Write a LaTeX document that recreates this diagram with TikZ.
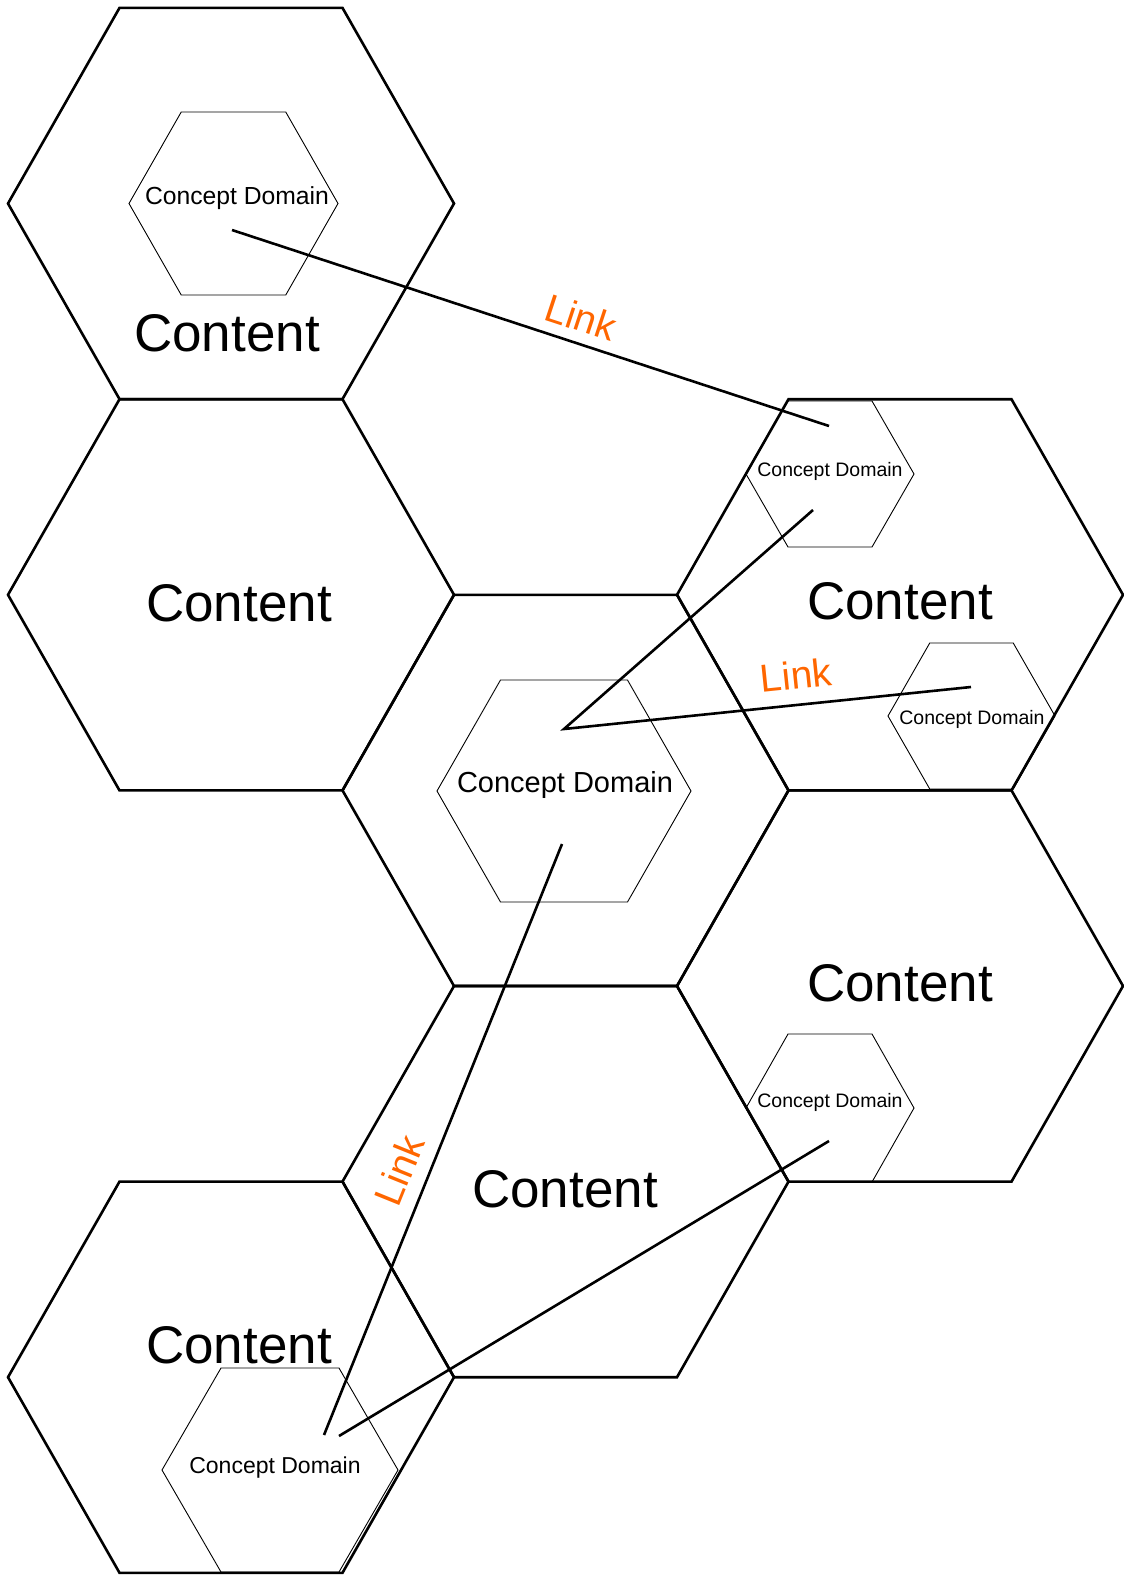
\documentclass[tikz,border=0pt]{standalone}
\usepackage{fontspec}
\setmainfont{Liberation Sans}
\definecolor{linkorange}{HTML}{FF6600}
\newcommand{\hexshape}[5]{%
  \draw[#5, shift={(#1,#2)}] (-#3,0) -- (-#3/2,-#4) -- (#3/2,-#4) -- (#3,0) -- (#3/2,#4) -- (-#3/2,#4) -- cycle;}
\begin{document}
\begin{tikzpicture}[x=1pt,y=-1pt,
  bighex/.style={line width=2.6pt, line join=miter},
  smallhex/.style={line width=0.9pt},
  contentlbl/.style={font=\fontsize{53}{60}\selectfont, anchor=base, inner sep=0pt},
  domainlbl/.style={anchor=base, inner sep=0pt},
  linkline/.style={line width=2.6pt},
  linklabel/.style={text=linkorange, font=\fontsize{39}{44}\selectfont, inner sep=0pt}]
\useasboundingbox (0,0) rectangle (1124,1575);

% large hexagons
\hexshape{231}{203.5}{223}{195.6}{bighex}
\hexshape{231}{594.8}{223}{195.6}{bighex}
\hexshape{565.5}{790.4}{223}{195.6}{bighex}
\hexshape{900}{594.8}{223}{195.6}{bighex}
\hexshape{900}{986}{223}{195.6}{bighex}
\hexshape{565.5}{1181.6}{223}{195.6}{bighex}
\hexshape{231}{1377.2}{223}{195.6}{bighex}

% small hexagons
\hexshape{233.5}{203.5}{104.5}{91.5}{smallhex}
\hexshape{830}{474}{84}{73}{smallhex}
\hexshape{564}{791}{127}{111}{smallhex}
\hexshape{971.5}{716}{83.5}{73}{smallhex}
\hexshape{830}{1108}{84}{74}{smallhex}
\hexshape{280}{1470}{118}{102}{smallhex}

% Content labels
\node[contentlbl] (cA) at (227,351) {Content};
\node[contentlbl] (cB) at (239,621) {Content};
\node[contentlbl] (cD) at (900,619) {Content};
\node[contentlbl] (cE) at (900,1001) {Content};
\node[contentlbl] (cF) at (565,1207) {Content};
\node[contentlbl] (cG) at (239,1363) {Content};

% Concept Domain labels
\node[domainlbl, font=\fontsize{24.7}{28}\selectfont] (d1) at (237,204) {Concept Domain};
\node[domainlbl, font=\fontsize{19.5}{23}\selectfont] (d2) at (830,476) {Concept Domain};
\node[domainlbl, font=\fontsize{29}{33}\selectfont] (d3) at (565,792) {Concept Domain};
\node[domainlbl, font=\fontsize{19.5}{23}\selectfont] (d4) at (972,724) {Concept Domain};
\node[domainlbl, font=\fontsize{19.5}{23}\selectfont] (d5) at (830,1107) {Concept Domain};
\node[domainlbl, font=\fontsize{23}{27}\selectfont] (d6) at (275,1473) {Concept Domain};

% link end points
\coordinate (l1a) at (232,230);
\coordinate (l1b) at (829,426);
\coordinate (l2a) at (813,510);
\coordinate (l2m) at (564,729);
\coordinate (l2b) at (971,687);
\coordinate (l3a) at (562,844);
\coordinate (l3b) at (324,1435);
\coordinate (l4a) at (829,1141);
\coordinate (l4b) at (339,1436);

\draw[linkline] (l1a) -- (l1b);
\draw[linkline, line join=miter] (l2a) -- (l2m) -- (l2b);
\draw[linkline] (l3a) -- (l3b);
\draw[linkline] (l4a) -- (l4b);

% Link labels
\node[linklabel, rotate=-18.2] (k1) at (581,317) {Link};
\node[linklabel, rotate=5.9] (k2) at (796,675) {Link};
\node[linklabel, rotate=68] (k3) at (399,1170) {Link};
\end{tikzpicture}
\end{document}
